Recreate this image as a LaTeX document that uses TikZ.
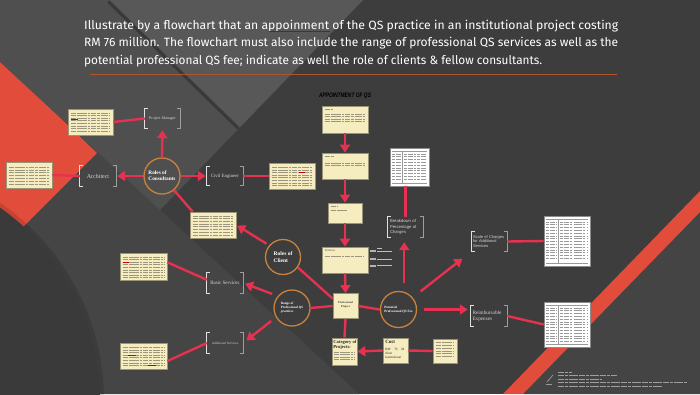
\documentclass[tikz,border=0pt]{standalone}
\usepackage{graphicx}
\usepackage{fontspec}
\setmainfont{Liberation Serif}
\newfontfamily\titlefont{Fira Sans}
\newfontfamily\hsans{Liberation Sans}
\usetikzlibrary{arrows.meta,calc}
\definecolor{bgdark}{HTML}{3D3D3D}
\definecolor{bglow}{HTML}{454545}
\definecolor{bgdisc}{HTML}{3A3A3A}
\definecolor{bgdia}{HTML}{4F4F4F}
\definecolor{bgv}{HTML}{585858}
\definecolor{bgr}{HTML}{444444}
\definecolor{redbg}{HTML}{E24C3B}
\definecolor{crim}{HTML}{E63250}
\definecolor{orng}{HTML}{C8823C}
\definecolor{cream}{HTML}{F5ECC0}
\definecolor{cardedge}{HTML}{9A9477}
\definecolor{txtc}{HTML}{9C9680}
\definecolor{brktxt}{HTML}{D6D6D6}
\definecolor{rulec}{HTML}{B0542E}
\newcommand\fsz[2]{\fontsize{#1pt}{#2pt}\selectfont}
\tikzset{
 card/.style={draw=cardedge, fill=cream, line width=0.7pt, inner sep=0pt},
 brk/.style={inner sep=0pt, text=brktxt, align=center},
 brl/.style={draw=white!88!black, line width=1.1pt},
 brr/.style={draw=white!62!black, line width=1.1pt},
 circ/.style={circle, draw=orng, line width=1.3pt, minimum size=36pt, inner sep=0pt, text=white, align=left},
 arr/.style={draw=crim, line width=2.4pt, -{Triangle[length=8pt,width=10pt]}},
 conn/.style={draw=crim, line width=2.4pt},
 doc/.style={draw=white!55!black, fill=white, line width=0.6pt, inner sep=0pt},
 txl/.style={draw=txtc, line width=0.38pt, dash pattern=on 5pt off 0.9pt on 3pt off 0.9pt on 7pt off 0.9pt on 2pt off 0.9pt},
 dtx/.style={draw=black!40, line width=0.35pt, dash pattern=on 3pt off 0.8pt on 5pt off 0.8pt on 2pt off 1.5pt},
 dl/.style={draw=black!40, line width=0.35pt},
 crd/.style={draw=white!62!black, line width=0.35pt, dash pattern=on 6pt off 1pt on 3pt off 1pt on 9pt off 1pt},
 titl/.style={inner sep=0pt, text=white, font=\titlefont\fsz{12}{14}},
}
\newcommand\brkdraw[1]{%
 \draw[brl] ($(#1.north west)+(3,0)$) -- (#1.north west) -- (#1.south west) -- ($(#1.south west)+(3,0)$);
 \draw[brr] ($(#1.north east)+(-3,0)$) -- (#1.north east) -- (#1.south east) -- ($(#1.south east)+(-3,0)$);}
\newcommand\clines[4]{%
 \foreach \k in {1,...,#3}{\draw[txl] ($(#1.north west)+(3,#2+#4*\k)$) -- ($(#1.north east)+(-3,#2+#4*\k)$);}}
\newcommand\docdeco[4]{%
 \begin{scope}[shift={(#1.north west)}]
  \draw[dl] (2,3) -- (#2-2,3);
  \draw[dl] (0.32*#2,3) -- (0.32*#2,#3-3);
  \draw[dl] (2,#3-3) -- (#2-2,#3-3);
  \foreach \k in {6,8.8,...,#4}{\draw[dtx] (2.5,\k) -- (0.32*#2-1.5,\k); \draw[dtx] (0.32*#2+2,\k) -- (#2-3,\k);}
 \end{scope}}
\begin{document}
\begin{tikzpicture}[x=1pt,y=-1pt]
\useasboundingbox (0,0) rectangle (700,394);
% ---------- background ----------
\fill[bgdark] (0,0) rectangle (700,394);
\fill[bglow] (0,62) -- (359,394) -- (0,394) -- cycle;
\fill[redbg] (0,60) -- (97,153) -- (0,250) -- cycle;
\begin{scope}
 \clip (0,0) rectangle (700,394);
 \fill[black, opacity=0.12] (-135,400) circle (239);
 \fill[bgdisc] (-135,400) circle (235);
\end{scope}
\fill[bgdia] (0,0) -- (363,0) -- (160,210) -- (0,62) -- cycle;
\fill[bgv] (110,0) -- (363,0) -- (240,127) -- cycle;
\begin{scope}
 \clip (0,0) -- (363,0) -- (160,210) -- (0,62) -- cycle;
 \draw[black, opacity=0.28, line width=3pt] (108.4,1.6) -- (238.4,128.6);
\end{scope}
\fill[bgr] (700,212) -- (700,394) -- (523,394) -- cycle;
\fill[redbg] (700,191) -- (700,212) -- (523,394) -- (503,394) -- cycle;
% ---------- title ----------
\node[titl, anchor=base west] (t1) at (84,29.3) {\resizebox{534pt}{\height}{Illustrate by a flowchart that an appoinment of the QS practice in an institutional project costing}};
\node[titl, anchor=base west] (t2) at (84,46.7) {\resizebox{534pt}{\height}{RM 76 million. The flowchart must also include the range of professional QS services as well as the}};
\node[titl, anchor=base west] (t3) at (84,64) {\resizebox{458pt}{\height}{potential professional QS fee; indicate as well the role of clients \& fellow consultants.}};
\draw[red!75!black, line width=0.5pt, dash pattern=on 1.5pt off 0.5pt] (269,31.6) -- (330,31.6);
\draw[rulec, line width=1pt] (90,74) -- (617,74);
\node[inner sep=0pt, font=\hsans\bfseries\itshape\fsz{6.5}{7}, text=black] (apt) at (345,96) {\resizebox{52pt}{\height}{APPOINTMENT OF QS}};
% ---------- cards ----------
\node[card, minimum width=45pt, minimum height=26pt] (cPM) at (90.5,122) {};
\node[card, minimum width=46pt, minimum height=26pt] (cArch) at (29,175) {};
\node[card, minimum width=46pt, minimum height=26pt] (cCE) at (292,176) {};
\node[card, minimum width=46pt, minimum height=26pt] (cRC) at (213,225) {};
\node[card, minimum width=47pt, minimum height=27pt] (cBS) at (143.5,266.5) {};
\node[card, minimum width=47pt, minimum height=26pt] (cAS) at (143.5,356) {};
\node[card, minimum width=46pt, minimum height=27pt] (cS1) at (345,119.5) {};
\node[card, minimum width=46pt, minimum height=26pt] (cS2) at (345,166) {};
\node[card, minimum width=34pt, minimum height=20pt] (cS3) at (345,213) {};
\node[card, minimum width=46pt, minimum height=26pt] (cServ) at (345,260) {};
\node[card, minimum width=25pt, minimum height=25pt] (cPP) at (345.5,306) {};
\node[card, minimum width=25pt, minimum height=27pt] (cCat) at (344.5,351.5) {};
\node[card, minimum width=25pt, minimum height=25pt] (cCost) at (395.5,350.5) {};
\node[card, minimum width=24pt, minimum height=24pt] (cR) at (445,351) {};
\clines{cPM}{1.5}{8}{2.6}
\draw[red!80!black, line width=0.4pt] ($(cPM.north west)+(3,11)$) -- ($(cPM.north west)+(10,11)$);
\clines{cArch}{2.5}{7}{2.8}
\clines{cCE}{2}{8}{2.6}
\draw[red!80!black, line width=0.4pt] ($(cCE.north west)+(30,9.8)$) -- ($(cCE.north west)+(36,9.8)$);
\clines{cRC}{1.5}{8}{2.7}
\clines{cBS}{1.5}{9}{2.6}
\draw[red!80!black, line width=0.4pt] ($(cBS.north west)+(3,9.3)$) -- ($(cBS.north west)+(9,9.3)$);
\clines{cAS}{2}{8}{2.6}
\draw[red!80!black, line width=0.4pt] ($(cAS.north west)+(8,12.4)$) -- ($(cAS.north west)+(16,12.4)$);
\draw[red!80!black, line width=0.4pt] ($(cAS.north west)+(28,22.8)$) -- ($(cAS.north west)+(36,22.8)$);
\draw[txl] ($(cS1.north west)+(3,4)$) -- ($(cS1.north west)+(11,4)$);
\clines{cS1}{6}{4}{2.5}
\draw[txl] ($(cS2.north west)+(3,4)$) -- ($(cS2.north west)+(12,4)$);
\clines{cS2}{8}{2}{2.5}
\draw[txl] ($(cS3.north west)+(3,4)$) -- ($(cS3.north west)+(10,4)$);
\draw[txl] ($(cS3.north west)+(3,8)$) -- ($(cS3.north west)+(20,8)$);
\node[anchor=north west, inner sep=0pt, font=\fsz{3}{3.5}, text=black!75] (tServ) at ($(cServ.north west)+(3,2.5)$) {Services};
\draw[txl] ($(cServ.north west)+(3,10)$) -- ($(cServ.north east)+(-4,10)$);
\node[inner sep=0pt, font=\bfseries\fsz{2.8}{3.4}, text=black!80, align=center] (tPP) at ($(cPP.center)+(0,-1)$) {Professional\\Project};
\node[anchor=north west, inner sep=0pt, font=\bfseries\fsz{4.6}{5}, text=black!85, align=left] (tCat) at ($(cCat.north west)+(1.5,2.5)$) {Category of\\Projects:};
\foreach \k in {14.5,16.8,19.1,21.4}{\draw[txl] ($(cCat.north west)+(2,\k)$) -- ($(cCat.north east)+(-2,\k)$);}
\node[anchor=north west, inner sep=0pt, font=\bfseries\fsz{5}{5}, text=black!85] (tCost) at ($(cCost.north west)+(2.5,2.5)$) {Cost};
\node[anchor=north west, inner sep=0pt, font=\fsz{3.3}{4.2}, text=black!85, text width=19pt, align=left] (tRM) at ($(cCost.north west)+(2.5,10)$) {RM\hfill 76\hfill M\\illion\\Institutional};
\clines{cR}{1}{6}{2.8}
% ---------- brackets ----------
\node[brk, minimum width=35pt, minimum height=19pt, font=\fsz{4}{5}] (bPM) at (162.5,118.5) {Project Manager};
\node[brk, minimum width=36pt, minimum height=20pt, font=\fsz{6}{7}] (bArch) at (98,176) {Architect};
\node[brk, minimum width=36pt, minimum height=19pt, font=\fsz{4.8}{6}] (bCE) at (225,176) {Civil Engineer};
\node[brk, minimum width=36pt, minimum height=20pt, font=\fsz{5}{6}] (bBS) at (225,283) {Basic Services};
\node[brk, minimum width=36pt, minimum height=20pt, font=\fsz{3.3}{4}] (bAS) at (225,343) {Additional Services};
\node[brk, minimum width=35pt, minimum height=20pt, font=\hsans\fsz{4.2}{5.6}, text width=31pt, align=left] (bBr) at (405.5,227) {Breakdown of\\Percentage of\\Charges};
\node[brk, minimum width=35pt, minimum height=19pt, font=\hsans\fsz{4}{4.8}, text width=33pt, align=left] (bSc) at (489.5,241.5) {Scale of Charges\\for Additional\\Services};
\node[brk, minimum width=36pt, minimum height=20pt, font=\fsz{5.2}{6}, text width=33pt, align=left] (bRe) at (489,316) {Reimbursable\\Expenses};
\foreach \b in {bPM,bArch,bCE,bBS,bAS,bBr,bSc,bRe}{\brkdraw{\b}}
% ---------- circles ----------
\node[circ, font=\bfseries\fsz{5.3}{6.2}] (oRC) at (162,176) {Roles of\\Consultants};
\node[circ, minimum size=35pt, font=\bfseries\fsz{5.5}{6.8}] (oCl) at (283,257) {Roles of\\Client};
\node[circ, font=\bfseries\fsz{3.3}{4}] (oRa) at (292,308) {Range of\\Professional QS\\practices};
\node[circ, font=\bfseries\fsz{3.3}{4}] (oPo) at (398.5,309.5) {Potential\\Professional QS Fee};
% ---------- documents ----------
\node[doc, minimum width=39pt, minimum height=38pt] (dBr) at (409.5,167) {};
\node[doc, minimum width=46pt, minimum height=50pt] (dSc) at (567,241) {};
\node[doc, minimum width=46pt, minimum height=45pt] (dRe) at (567,324.5) {};
\docdeco{dBr}{39}{38}{33}
\docdeco{dSc}{46}{50}{45}
\docdeco{dRe}{46}{45}{40}
% ---------- small labels beside Services ----------
\draw[white!75!black, line width=0.4pt] (377,248) -- (382,248);
\foreach \yy in {251,259,265.7}{
 \fill[white!70!black] (370,\yy-1) rectangle (376,\yy+1);
 \draw[white!75!black, line width=0.5pt] (377,\yy) -- (392,\yy);}
% ---------- credits ----------
\draw[white!60!black, line width=0.7pt] (547,382) -- (553,375);
\draw[white!60!black, line width=0.5pt] (546,384) -- (552,384);
\draw[crd] (558,372) -- (572,372);
\draw[crd] (558,375.5) -- (617,375.5);
\draw[crd] (558,379) -- (602,379);
\draw[crd] (558,382.5) -- (687,382.5);
\draw[crd] (558,386) -- (662,386);
% ---------- connectors ----------
\draw[arr, shorten >=2pt] (oRC.north) -- (bPM.south);
\draw[conn] (cPM.east) -- (bPM.west);
\draw[arr, shorten >=1pt] (oRC.west) -- (bArch.east);
\draw[conn] (cArch.east) -- (bArch.west);
\draw[arr, shorten >=1pt] (oRC.east) -- (bCE.west);
\draw[conn] (bCE.east) -- (cCE.west);
\draw[conn] (oRC.-50) -- ($(cRC.north west)+(3,0)$);
\draw[arr, shorten <=3pt, shorten >=1pt] (oCl.140) -- (cRC.east);
\draw[conn] (oCl.-35) -- (cPP.150);
\draw[conn] (oRa.east) -- (cPP.west);
\draw[arr, shorten <=6pt, shorten >=2pt] (oRa.140) -- (bBS.east);
\draw[conn] (cBS.10) -- (bBS.170);
\draw[arr, shorten <=6pt, shorten >=4pt] (oRa.210) -- (bAS.east);
\draw[conn] (bAS.west) -- (cAS.-12);
\draw[arr] (cS1.south) -- (cS2.north);
\draw[arr] (cS2.south) -- (cS3.north);
\draw[arr] (cS3.south) -- (cServ.north);
\draw[arr] (cServ.south) -- (cPP.north);
\draw[conn] (cPP.south) -- (cCat.north);
\draw[arr] (cCost.west) -- (cCat.east);
\draw[conn] (cCost.east) -- (cR.west);
\draw[conn] (cPP.east) -- (oPo.west);
\draw[arr, shorten <=9pt, shorten >=5pt] (oPo.72) -- (oPo.72 |- bBr.south);
\draw[conn] (dBr.south -| bBr.north) -- (bBr.north);
\draw[arr, shorten <=10pt, shorten >=12pt] (oPo.40) -- (bSc.south west);
\draw[conn] (bSc.east) -- (dSc.west);
\draw[arr, shorten <=7pt, shorten >=3pt] (oPo.east) -- (oPo.east -| bRe.west);
\draw[conn] (bRe.east) -- (dRe.west);
\end{tikzpicture}
\end{document}
